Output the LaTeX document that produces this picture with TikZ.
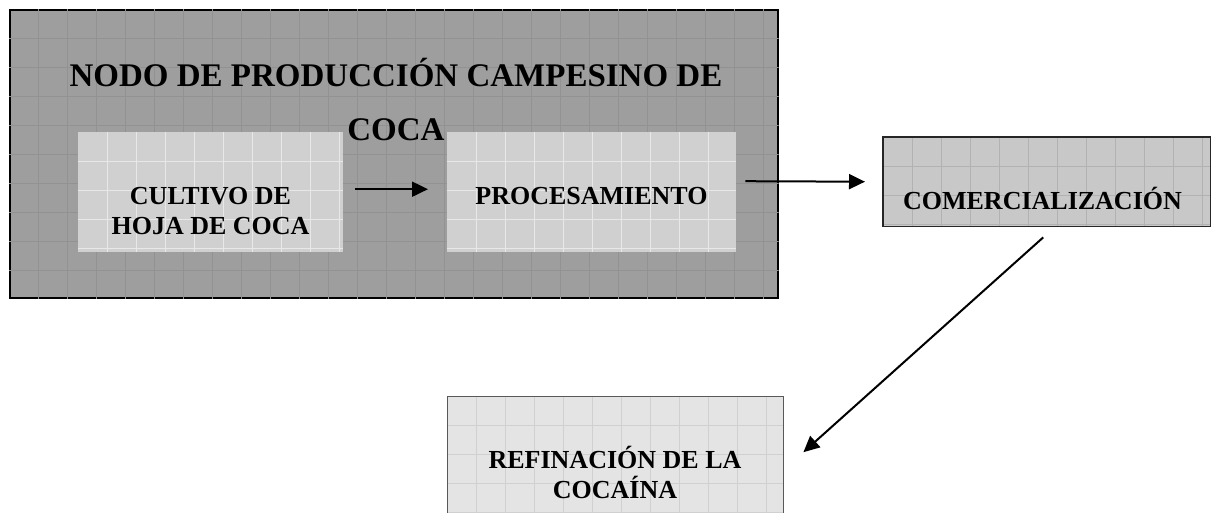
\documentclass[tikz,border=0pt]{standalone}
\usepackage{fontspec}
\setmainfont{Liberation Serif}
\usetikzlibrary{arrows.meta}
\definecolor{fondo}{RGB}{158,158,158}
\definecolor{fondogrid}{RGB}{146,146,146}
\definecolor{claro}{RGB}{208,208,208}
\definecolor{clarogrid}{RGB}{232,232,232}
\definecolor{medio}{RGB}{200,200,200}
\definecolor{mediogrid}{RGB}{178,178,178}
\definecolor{palido}{RGB}{228,228,228}
\definecolor{palidogrid}{RGB}{208,208,208}

\tikzset{
    caja/.style={rectangle, inner sep=0pt, anchor=north west},
    texto/.style={font=\bfseries\fontsize{26}{30}\selectfont, align=center, inner sep=0pt, anchor=base},
    flecha/.style={line width=2pt, -{Triangle[length=16pt, width=15pt]}},
}

% grid lines inside a box: node, colour, count
\newcommand{\rejilla}[3]{%
    \begin{scope}
        \clip (#1.north west) rectangle (#1.south east);
        \foreach \k in {1,...,#3} {
            \draw[#2, line width=0.8pt] ([xshift=\k*29pt]#1.north west) -- ([xshift=\k*29pt]#1.south west);
            \draw[#2, line width=0.8pt] ([yshift=-\k*29pt]#1.north west) -- ([yshift=-\k*29pt]#1.north east);
        }
    \end{scope}}

\begin{document}
\begin{tikzpicture}[x=1pt, y=-1pt]
    \useasboundingbox (0,0) rectangle (1212,512);

    % Nodo campesino
    \node[caja, fill=fondo, draw=black, line width=1.5pt, minimum width=768pt, minimum height=288pt] (nodo) at (9,9) {};
    \rejilla{nodo}{fondogrid}{27}

    \node[caja, fill=claro, minimum width=265pt, minimum height=120pt] (cultivo) at (78,132) {};
    \rejilla{cultivo}{clarogrid}{10}
    \node[texto] (cultivo texto) at (210.5,234) {CULTIVO DE\\HOJA DE COCA};

    \node[caja, fill=claro, minimum width=289pt, minimum height=120pt] (procesamiento) at (447,132) {};
    \rejilla{procesamiento}{clarogrid}{10}
    \node[texto] (procesamiento texto) at (591.5,204) {PROCESAMIENTO};

    % Title
    \node[font=\bfseries\fontsize{33}{54}\selectfont, align=center, inner sep=0pt, anchor=base] (titulo) at (396,140)
        {NODO DE PRODUCCIÓN CAMPESINO DE\\COCA};

    % Comercializacion
    \node[caja, fill=medio, minimum width=327pt, minimum height=89pt] (comercio) at (883,137) {};
    \rejilla{comercio}{mediogrid}{12}
    \draw[black!85, line width=1.2pt] (comercio.north west) rectangle (comercio.south east);
    \node[texto] (comercio texto) at (1042.5,209) {COMERCIALIZACIÓN};

    % Refinacion
    \node[caja, fill=palido, minimum width=336pt, minimum height=120pt] (refinacion) at (447,396) {};
    \rejilla{refinacion}{palidogrid}{12}
    \draw[black!65, line width=1pt] (refinacion.north west) rectangle (refinacion.south east);
    \node[texto] (refinacion texto) at (615,498) {REFINACIÓN DE LA\\COCAÍNA};

    \draw[flecha] ([xshift=12pt, yshift=3pt]cultivo.east) -- ([xshift=-19pt, yshift=3pt]procesamiento.west);
    \draw[flecha] ([xshift=9pt, yshift=11pt]procesamiento.east) -- ([xshift=-18pt]comercio.west);
    \draw[flecha] ([xshift=-3.5pt, yshift=-11pt]comercio.south) -- ([xshift=20pt, yshift=4pt]refinacion.east);
\end{tikzpicture}
\end{document}
